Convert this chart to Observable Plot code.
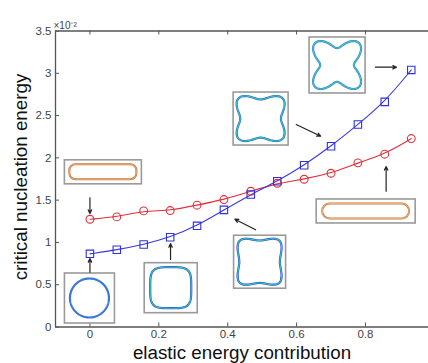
<!DOCTYPE html>
<html><head><meta charset="utf-8">
<script src="https://cdn.jsdelivr.net/npm/d3@7"></script>
<script src="https://cdn.jsdelivr.net/npm/@observablehq/plot@0.6"></script>
<style>html,body{margin:0;padding:0;background:#fff;} #chart{width:428px;height:363px;}</style>
</head><body><div id="chart"></div>
<script>
// ---- data ----
const xValues = [0, 0.078, 0.156, 0.233, 0.311, 0.389, 0.467, 0.544, 0.622, 0.700, 0.778, 0.856, 0.933];
const blueValues = [0.865, 0.913, 0.975, 1.061, 1.196, 1.385, 1.566, 1.723, 1.913, 2.137, 2.394, 2.662, 3.040];
const redValues = [1.274, 1.302, 1.373, 1.377, 1.440, 1.507, 1.605, 1.700, 1.747, 1.818, 1.941, 2.043, 2.228];
const xTicks = [0, 0.2, 0.4, 0.6, 0.8];
const yTicks = [0, 0.5, 1, 1.5, 2, 2.5, 3, 3.5];
const xLabel = "elastic energy contribution";
const yLabel = "critical nucleation energy";
const yExponent = "×10⁻²";

// annotation anchors (data coordinates)
const insetX = [0, 0.236, 0.494, 0.497, 0.719, 0.039, 0.802];
const insetY = [0.337, 0.459, 0.766, 2.459, 3.092, 1.829, 1.366];
const arrowX1 = [0, 0.234, 0.481, 0.599, 0.829, 0, 0.860];
const arrowY1 = [0.648, 0.798, 1.149, 2.394, 3.072, 1.528, 1.606];
const arrowX2 = [0, 0.234, 0.421, 0.670, 0.890, 0, 0.860];
const arrowY2 = [0.810, 0.986, 1.275, 2.256, 3.072, 1.342, 1.898];

const blue = xValues.map((x, i) => ({x, y: blueValues[i]}));
const red = xValues.map((x, i) => ({x, y: redValues[i]}));
const arrows = arrowX1.map((x1, i) => ({x1, y1: arrowY1[i], x2: arrowX2[i], y2: arrowY2[i]}));

// inset glyph styles
const insetStyles = [
  {w: 50, h: 50, kind: "blob", rx: 19.5, ry: 19.5, n: 2, a: 0, c1: "#3a78d8", c2: null},
  {w: 53, h: 50, kind: "blob", rx: 20.5, ry: 20.5, n: 4, a: 0, c1: "#2f4fd0", c2: "#38c8b8"},
  {w: 52, h: 53, kind: "blob", rx: 22, ry: 23, n: 5, a: 0.06, c1: "#2f4fd0", c2: "#38c8b8"},
  {w: 55, h: 53, kind: "blob", rx: 24, ry: 22.5, n: 4, a: 0.12, c1: "#2f6ad0", c2: "#38c4bc"},
  {w: 56, h: 56, kind: "blob", rx: 24, ry: 24, n: 2.6, a: 0.26, c1: "#3a80d0", c2: "#40c8c0"},
  {w: 77, h: 24, kind: "rrect", rx: 33.5, ry: 7.5, r: 6, c1: "#c47238", c2: "#f2b884"},
  {w: 99, h: 24, kind: "rrect", rx: 43.5, ry: 7.5, r: 7.5, c1: "#c47a40", c2: "#f4c090"}
];

function blobPoints(s) {
  const N = 240, pts = [];
  for (let i = 0; i <= N; i++) {
    const t = i / N * 2 * Math.PI, c = Math.cos(t), sn = Math.sin(t);
    const r0 = Math.pow(Math.pow(Math.abs(c), s.n) + Math.pow(Math.abs(sn), s.n), -1 / s.n);
    const r = r0 * (1 - s.a * Math.cos(4 * t));
    pts.push([r * c, r * sn]);
  }
  const mx = d3.max(pts, p => Math.abs(p[0])), my = d3.max(pts, p => Math.abs(p[1]));
  return pts.map(([x, y]) => [x / mx * s.rx, y / my * s.ry]);
}

function insetMark(index, scales) {
  const g = d3.create("svg:g");
  insetX.forEach((xv, i) => {
    const s = insetStyles[i];
    const cx = scales.x(xv), cy = scales.y(insetY[i]);
    const gi = g.append("g").attr("transform", `translate(${cx},${cy})`);
    gi.append("rect").attr("x", -s.w / 2).attr("y", -s.h / 2).attr("width", s.w).attr("height", s.h)
      .attr("fill", "white").attr("stroke", "#9a9a9a").attr("stroke-width", 1.6);
    if (s.kind === "blob") {
      const path = d3.line().curve(d3.curveLinearClosed)(blobPoints(s));
      gi.append("path").attr("d", path).attr("fill", "none").attr("stroke", s.c1).attr("stroke-width", 2.2);
      if (s.c2) gi.append("path").attr("d", path).attr("fill", "none").attr("stroke", s.c2).attr("stroke-width", 1.1);
    } else {
      gi.append("rect").attr("x", -s.rx).attr("y", -s.ry).attr("width", 2 * s.rx).attr("height", 2 * s.ry)
        .attr("rx", s.r).attr("fill", "none").attr("stroke", s.c1).attr("stroke-width", 2);
      gi.append("rect").attr("x", -s.rx).attr("y", -s.ry).attr("width", 2 * s.rx).attr("height", 2 * s.ry)
        .attr("rx", s.r).attr("fill", "none").attr("stroke", s.c2).attr("stroke-width", 0.8);
    }
  });
  return g.node();
}

const font = "'Liberation Sans', Arial, sans-serif";
const axisColor = "#555";
const frameW = 428 - 55, frameH = 296;

const chart = Plot.plot({
  width: 428, height: 363,
  marginLeft: 55, marginRight: 0, marginTop: 30.5, marginBottom: 36.5,
  style: {fontFamily: font, background: "white"},
  x: {domain: [-0.1, 0.983]},
  y: {domain: [0, 3.5]},
  marks: [
    Plot.axisX(xTicks, {tickSize: 0, tickPadding: 3, fontSize: 11.5, fill: "#444", label: null, tickFormat: d => String(d)}),
    Plot.axisY(yTicks, {tickSize: 0, tickPadding: 4, fontSize: 11.5, fill: "#444", label: null, tickFormat: d => String(d)}),
    Plot.tickX(xTicks, {x: d => d, insetTop: frameH - 4, stroke: axisColor}),
    Plot.tickX(xTicks, {x: d => d, insetBottom: frameH - 4, stroke: axisColor}),
    Plot.tickY(yTicks, {y: d => d, insetRight: frameW - 4, stroke: axisColor}),
    Plot.ruleX([-0.1], {stroke: axisColor, strokeWidth: 1.3}),
    Plot.ruleY([0], {stroke: axisColor, strokeWidth: 1.3}),
    Plot.ruleY([3.5], {stroke: axisColor, strokeWidth: 1.3}),
    Plot.line(red, {x: "x", y: "y", stroke: "#e0303a", strokeWidth: 1.1, curve: "basis"}),
    Plot.line(blue, {x: "x", y: "y", stroke: "#3a3ae0", strokeWidth: 1.1, curve: "basis"}),
    Plot.dot(red, {x: "x", y: "y", r: 3.9, stroke: "#e0303a", strokeWidth: 1.1, fill: "none"}),
    Plot.dot(blue, {x: "x", y: "y", r: 4.2, symbol: "square", stroke: "#3030e0", strokeWidth: 1.1, fill: "none"}),
    insetMark,
    Plot.arrow(arrows, {x1: "x1", y1: "y1", x2: "x2", y2: "y2", stroke: "#222", strokeWidth: 1.2, headLength: 5, headAngle: 50}),
    Plot.text([yLabel], {frameAnchor: "left", dx: -35, dy: -2, rotate: -90, textAnchor: "middle", fontSize: 18.8, fill: "#111"}),
    Plot.text([xLabel], {frameAnchor: "bottom", dy: 31.5, fontSize: 18.8, fill: "#111"}),
    Plot.text([yExponent], {frameAnchor: "top-left", dx: -2, dy: -9.5, textAnchor: "start", fontSize: 10, fill: "#444"})
  ]
});
document.getElementById("chart").append(chart);
</script>
</body></html>
